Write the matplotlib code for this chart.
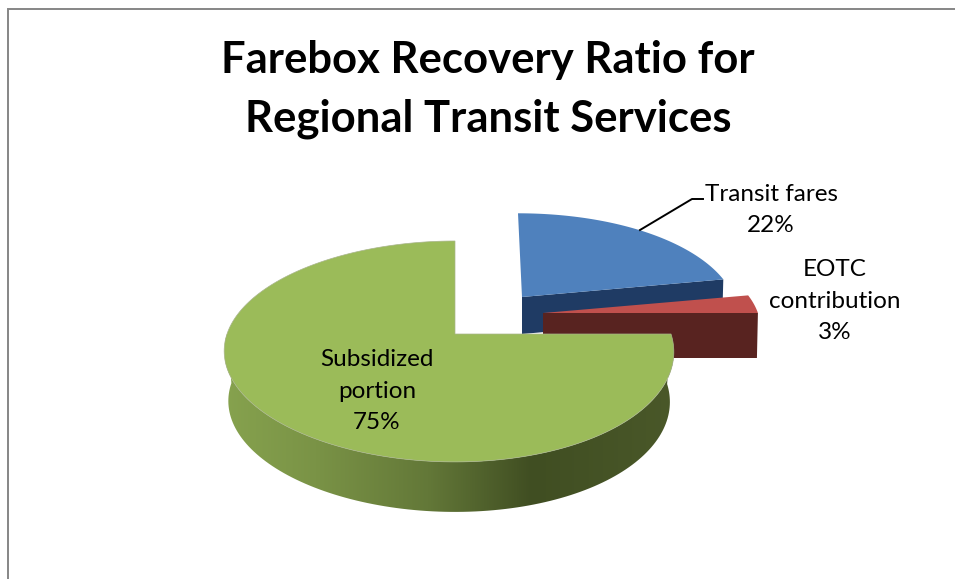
import numpy as np
import matplotlib
matplotlib.use("Agg")
import matplotlib.pyplot as plt
from matplotlib.colors import LinearSegmentedColormap
from matplotlib.patches import Polygon

# chart data
title = "Farebox Recovery Ratio for\nRegional Transit Services"
names = ["Transit fares", "EOTC\ncontribution", "Subsidized\nportion"]
values = [22, 3, 75]

# look of each slice, same order as the data
top_colors = ["#4F81BD", "#C0504D", "#9BBB59"]
wall_colors = ["#1F3B64", "#582320", "#4B5A2A"]
apexes = [(522, 297), (543, 313), (455, 334)]
x_scales = [0.98, 0.995, 1.0]
y_scales = [0.90, 0.90, 1.0]
leans = [-4, 0, 0]
depths = [37, 45, 50]
label_pos = [(771, 210), (835, 301), (377, 391)]

# perspective of the tilted pie, in pixels
RX = 222
RX_SKEW = -6
RY = 107.7
TILT = 0.158


def rim(start, end, apex, sx, sy, lean):
    t = np.radians(np.linspace(start, end, 200))
    u, v = np.sin(t), np.cos(t)
    s = 1 / (1 + TILT * v)
    x = apex[0] + sx * (RX * u + RX_SKEW * u ** 2) * s + lean * v
    y = apex[1] - sy * RY * v * s
    return x, y


fig = plt.figure(figsize=(9.55, 5.79), dpi=100)
ax = fig.add_axes([0, 0, 1, 1])
ax.set_xlim(0, 955)
ax.set_ylim(579, 0)
ax.axis("off")

# chart border, runs off the page on the right and at the bottom
ax.plot([8, 8, 955], [579, 8.5, 8.5], color="#868686", lw=1.4, solid_joinstyle="miter")

fracs = np.array(values) / sum(values) * 360
ends = np.cumsum(fracs)
starts = ends - fracs

for i in range(3):
    x, y = rim(starts[i], ends[i], apexes[i], x_scales[i], y_scales[i], leans[i])
    apex = apexes[i]
    if i < 2:
        # cut wall facing the viewer
        wall = [apex, (x[-1], y[-1]), (x[-1] - 1, y[-1] + depths[i]), (apex[0], apex[1] + depths[i])]
        ax.add_patch(Polygon(wall, closed=True, fc=wall_colors[i], ec="none", zorder=2 + i))
    else:
        # outer wall of the big slice with its shading
        n = int(200 * (272 - starts[i]) / fracs[i])
        xs, ys = x[:n], y[:n]
        xb = apex[0] + (xs - apex[0]) * 0.982
        yb = ys + depths[i]
        poly = Polygon(np.r_[np.c_[xs, ys], np.c_[xb[::-1], yb[::-1]]], closed=True, fc="none", ec="none", zorder=6)
        ax.add_patch(poly)
        shade = LinearSegmentedColormap.from_list(
            "side", [(0, "#86A24E"), (0.2, "#7A9346"), (0.45, "#637838"), (0.68, "#404E22"), (1, "#4A5829")]
        )
        im = ax.imshow(
            np.linspace(0, 1, 256)[None, :], cmap=shade, aspect="auto",
            extent=[225, 675, 579, 0], zorder=6,
        )
        im.set_clip_path(poly)
        ax.set_xlim(0, 955)
        ax.set_ylim(579, 0)
    face = np.r_[[apex], np.c_[x, y]]
    ax.add_patch(Polygon(face, closed=True, fc=top_colors[i], ec="#A9B58C" if i == 2 else "none",
                         lw=0.5, zorder=7 if i == 2 else 3 + i))

# leader line of the first label
ax.plot([640, 692, 703], [230, 199, 199], color="black", lw=1.4, zorder=8)

font = "Lato"
ax.text(488, 89.5, title, ha="center", va="center", family=font, fontweight="bold",
        fontsize=31.4, linespacing=1.54, color="black", zorder=9)

for i in range(3):
    ax.text(label_pos[i][0], label_pos[i][1], f"{names[i]}\n{values[i]}%", ha="center", va="center",
            family=font, fontsize=17.5, linespacing=1.6, color="black", zorder=9)

fig.savefig("out.png", dpi=100)
